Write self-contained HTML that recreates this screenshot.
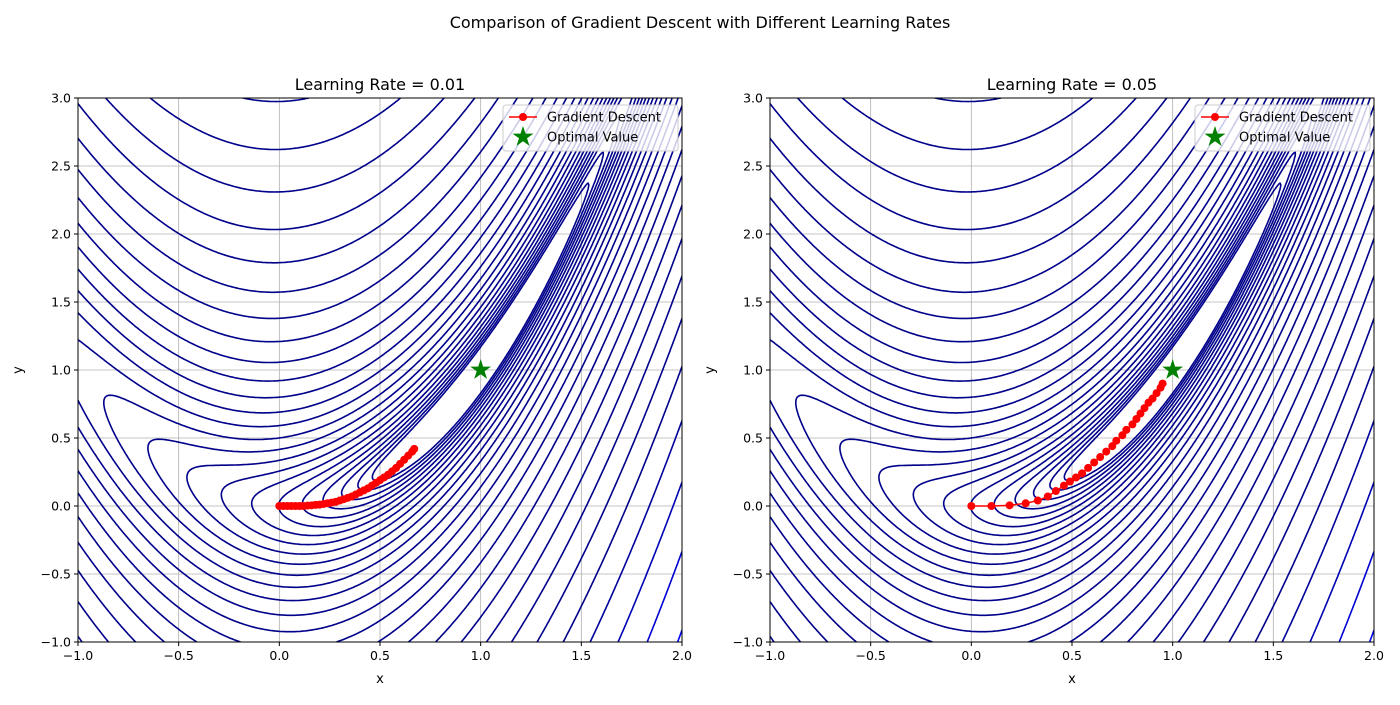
<!DOCTYPE html>
<html><head><meta charset="utf-8"><style>
body{margin:0;background:#fff;font-family:"Liberation Sans","DejaVu Sans",sans-serif;}
svg text{font-family:"DejaVu Sans","Liberation Sans",sans-serif;}
</style></head><body>
<svg id="svg" width="1400" height="700" xmlns="http://www.w3.org/2000/svg">
<text x="700" y="28" text-anchor="middle" font-size="16" fill="#000">Comparison of Gradient Descent with Different Learning Rates</text>
</svg>
<script>
// Data arrays
const xTicks = [-1.0,-0.5,0.0,0.5,1.0,1.5,2.0];
const yTicks = [-1.0,-0.5,0.0,0.5,1.0,1.5,2.0,2.5,3.0];
const xTickLabels = ["\u22121.0","\u22120.5","0.0","0.5","1.0","1.5","2.0"];
const yTickLabels = ["\u22121.0","\u22120.5","0.0","0.5","1.0","1.5","2.0","2.5","3.0"];
const learningRates = ["0.01","0.05"];
const optimum = [1.0, 1.0];
const pathLeftX = [0,.02,.04,.06,.08,.10,.12,.14,.16,.18,.20,.22,.24,.26,.28,.30,.32,.34,.36,.38,.40,.42,.44,.46,.48,.50,.52,.54,.56,.58,.60,.62,.64,.66,.67];
const pathLeftY = [0,0,0,0,0,0,0,.003,.005,.008,.01,.015,.02,.025,.03,.04,.05,.06,.07,.085,.10,.115,.13,.15,.17,.19,.21,.23,.255,.28,.31,.34,.37,.40,.42];
const pathRightX = [0,.10,.19,.27,.33,.38,.42,.46,.49,.52,.55,.58,.61,.64,.67,.70,.72,.75,.77,.80,.82,.84,.86,.88,.90,.92,.94,.95];
const pathRightY = [0,0,.005,.02,.04,.07,.11,.15,.18,.21,.24,.28,.32,.36,.40,.44,.48,.52,.56,.60,.64,.68,.72,.76,.79,.83,.87,.90];
const levelBase = 0.29, levelRatio = 1.283, levelCount = 31;
const valleyCoef = 10;

const NS="http://www.w3.org/2000/svg";
const svg=document.getElementById('svg');
function mk(tag,attrs,parent){const e=document.createElementNS(NS,tag);for(const k in attrs)e.setAttribute(k,attrs[k]);(parent||svg).appendChild(e);return e;}
function f(x,y){return (1-x)*(1-x)+valleyCoef*(y-x*x)*(y-x*x);}
const levels=[];for(let k=0;k<levelCount;k++)levels.push(levelBase*Math.pow(levelRatio,k));

function panel(idx,left,px,py){
  const W=604,H=544,top=98;
  const sx=x=>left+(x+1)/3*W, sy=y=>top+(3-y)/4*H;
  const g=mk('g',{});
  
  
  const cid='clip'+idx;
  const cp=mk('clipPath',{id:cid},g);mk('rect',{x:left,y:top,width:W,height:H},cp);
  xTicks.forEach(t=>{const l=mk('line',{x1:sx(t),x2:sx(t),y1:top,y2:top+H,stroke:'#b0b0b0','stroke-width':0.8},g);});
  yTicks.forEach(t=>{const l=mk('line',{x1:left,x2:left+W,y1:sy(t),y2:sy(t),stroke:'#b0b0b0','stroke-width':0.8},g);});
  const nx=360,ny=320,x0=-1,x1=2,y0=-1,y1=3;
  const dx=(x1-x0)/nx,dy=(y1-y0)/ny;
  const F=[];for(let j=0;j<=ny;j++){const r=[];for(let i=0;i<=nx;i++)r.push(f(x0+i*dx,y0+j*dy));F.push(r);}
  const cg=mk('g',{'clip-path':'url(#'+cid+')'},g);
  
  levels.forEach(L=>{
    let d='';
    for(let j=0;j<ny;j++)for(let i=0;i<nx;i++){
      const v=[F[j][i],F[j][i+1],F[j+1][i+1],F[j+1][i]];
      const P=[[x0+i*dx,y0+j*dy],[x0+(i+1)*dx,y0+j*dy],[x0+(i+1)*dx,y0+(j+1)*dy],[x0+i*dx,y0+(j+1)*dy]];
      const pts=[];
      for(let e=0;e<4;e++){const a=v[e],b=v[(e+1)%4];
        if((a<L)!==(b<L)){const t=(L-a)/(b-a);const A=P[e],B=P[(e+1)%4];pts.push([A[0]+t*(B[0]-A[0]),A[1]+t*(B[1]-A[1])]);}}
      for(let k=0;k+1<pts.length;k+=2)d+='M'+sx(pts[k][0]).toFixed(1)+' '+sy(pts[k][1]).toFixed(1)+'L'+sx(pts[k+1][0]).toFixed(1)+' '+sy(pts[k+1][1]).toFixed(1);
    }
    const b=Math.min(255,Math.round(139+116*Math.max(0,(L-90))/160));
    const p=mk('path',{d:d,stroke:'rgb(0,0,'+b+')','stroke-width':1.6,fill:'none','stroke-linecap':'round'},cg);
    
  });
  let pd='';px.forEach((x,i)=>{pd+=(i?'L':'M')+sx(x)+' '+sy(py[i]);});
  const pl=mk('path',{d:pd,stroke:'#ff0000','stroke-width':1.5,fill:'none'},g);
  
  px.forEach((x,i)=>{const c=mk('circle',{cx:sx(x),cy:sy(py[i]),r:4,fill:'#ff0000'},g);
    });
  function star(cx,cy,R,parent){const r=R*0.38;let s='';for(let k=0;k<10;k++){const a=-Math.PI/2+k*Math.PI/5;const rr=k%2?r:R;s+=(cx+rr*Math.cos(a)).toFixed(1)+','+(cy+rr*Math.sin(a)).toFixed(1)+' ';}return mk('polygon',{points:s,fill:'#008000'},parent);}
  const st=star(sx(optimum[0]),sy(optimum[1]),11,g);
  
  mk('rect',{x:left,y:top,width:W,height:H,fill:'none',stroke:'#000','stroke-width':1},g);
  xTicks.forEach((t,i)=>{mk('line',{x1:sx(t),x2:sx(t),y1:top+H,y2:top+H+4,stroke:'#000'},g);
    const tx=mk('text',{x:sx(t),y:top+H+18,'text-anchor':'middle','font-size':12.5},g);tx.textContent=xTickLabels[i];
    });
  yTicks.forEach((t,i)=>{mk('line',{x1:left-4,x2:left,y1:sy(t),y2:sy(t),stroke:'#000'},g);
    const tx=mk('text',{x:left-7,y:sy(t)+4.5,'text-anchor':'end','font-size':12.5},g);tx.textContent=yTickLabels[i];
    });
  const xl=mk('text',{x:left+W/2,y:683,'text-anchor':'middle','font-size':13},g);xl.textContent='x';
  
  const yl=mk('text',{x:0,y:0,'text-anchor':'middle','font-size':13,transform:'translate('+(left-56)+','+(top+H/2)+') rotate(-90)'},g);yl.textContent='y';
  
  const tt=mk('text',{x:left+W/2,y:90,'text-anchor':'middle','font-size':16},g);tt.textContent='Learning Rate = '+learningRates[idx];
  
  const lg=mk('g',{},g);
  const lx=left+W-179,ly=top+7;
  mk('rect',{x:lx,y:ly,width:175,height:46,rx:3,fill:'#fff','fill-opacity':0.8,stroke:'#ccc'},lg);
  mk('line',{x1:lx+6,x2:lx+34,y1:ly+12,y2:ly+12,stroke:'#f00','stroke-width':1.5},lg);
  mk('circle',{cx:lx+20,cy:ly+12,r:4,fill:'#f00'},lg);
  const t1=mk('text',{x:lx+44,y:ly+16.5,'font-size':13},lg);t1.textContent='Gradient Descent';
  
  star(lx+20,ly+32,11,lg);
  const t2=mk('text',{x:lx+44,y:ly+36.5,'font-size':13},lg);t2.textContent='Optimal Value';
  
}
panel(0,78,pathLeftX,pathLeftY);
panel(1,770,pathRightX,pathRightY);
</script>
</body></html>
